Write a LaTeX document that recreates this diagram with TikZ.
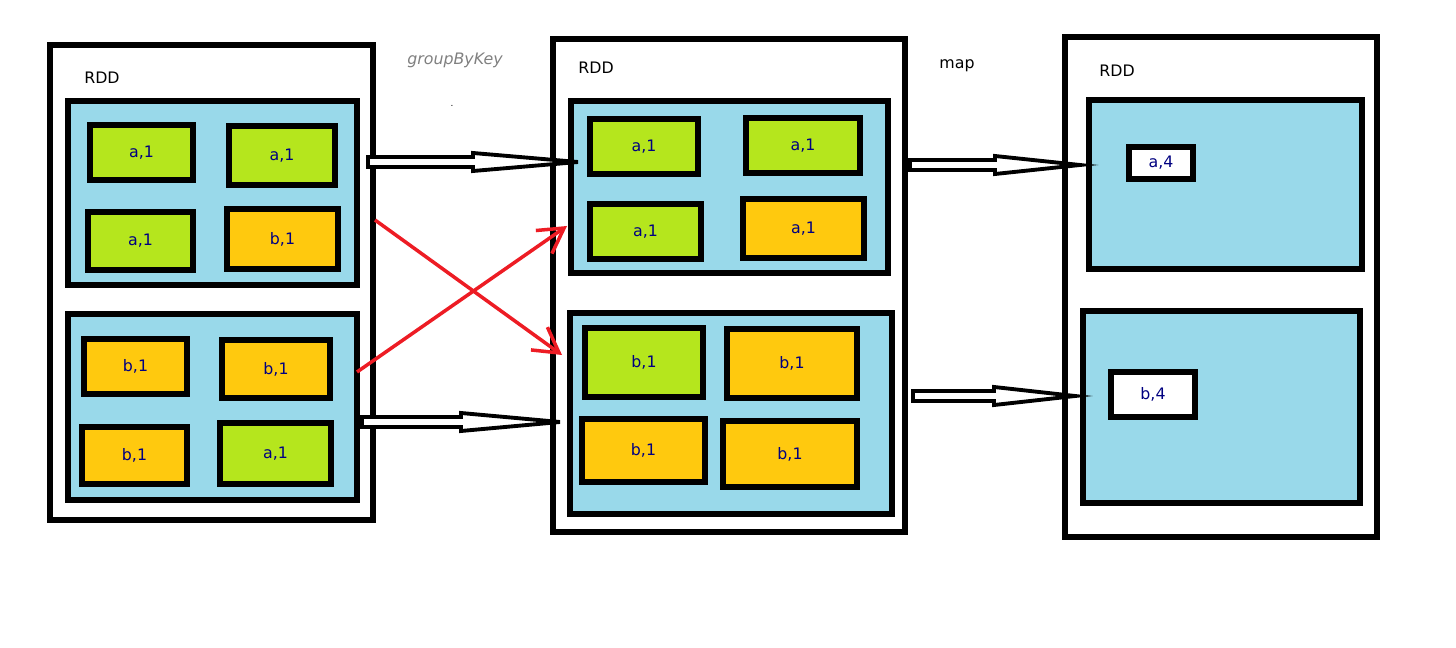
\documentclass[tikz,border=0pt]{standalone}
\usepackage{fontspec}
\setmainfont{DejaVu Sans}
\usetikzlibrary{arrows.meta}
\definecolor{partblue}{HTML}{99D9EA}
\definecolor{keygreen}{HTML}{B5E61D}
\definecolor{keyorange}{HTML}{FFC90E}
\definecolor{redline}{HTML}{ED1C24}
\definecolor{celltext}{HTML}{000080}
\tikzset{
  rdd/.style={draw, line width=3pt, fill=white},
  part/.style={draw, line width=3pt, fill=partblue},
  cell/.style={draw, line width=3pt},
  lbl/.style={font=\small, celltext},
  hollow/.style={draw, line width=2.2pt, fill=white},
  shuffle/.style={draw=redline, line width=2pt, -{Straight Barb[length=14pt,width=16pt]}}
}
% hollow arrow: x start, x end, y
\newcommand{\hollowarrow}[3]{%
  \pgfmathsetmacro{\xm}{#1+0.5*(#2-#1)}
  \path[hollow] (#1,#3-5) -- (\xm,#3-5) -- (\xm,#3-9) -- (#2,#3) -- (\xm,#3+9) -- (\xm,#3+5) -- (#1,#3+5) -- cycle;}
% cell: name, x1, y1, x2, y2, colour, text
\newcommand{\keycell}[7]{%
  \path[cell, fill=#6] (#2,#3) rectangle (#4,#5);
  \node[lbl] (#1) at ({(#2+#4)/2},{(#3+#5)/2}) {#7};}
\begin{document}
\begin{tikzpicture}[x=0.02cm, y=-0.02cm]
  \useasboundingbox (0,0) rectangle (1456,648);

  % 第一个 RDD
  \path[rdd] (50,45) rectangle (373,520);
  \node (rddA) at (102,78) {\small RDD};
  \path[part] (68,101) rectangle (357,285);
  \path[part] (68,314) rectangle (357,500);
  \keycell{a1}{90}{125}{193}{180}{keygreen}{a,1}
  \keycell{a2}{229}{126}{335}{185}{keygreen}{a,1}
  \keycell{a3}{88}{212}{193}{270}{keygreen}{a,1}
  \keycell{a4}{227}{209}{338}{269}{keyorange}{b,1}
  \keycell{a5}{84}{339}{187}{394}{keyorange}{b,1}
  \keycell{a6}{222}{340}{330}{398}{keyorange}{b,1}
  \keycell{a7}{82}{427}{187}{484}{keyorange}{b,1}
  \keycell{a8}{220}{423}{331}{484}{keygreen}{a,1}

  % 第二个 RDD
  \path[rdd] (553,39) rectangle (905,532);
  \node (rddB) at (596,68) {\small RDD};
  \path[part] (571,101) rectangle (888,273);
  \path[part] (570,313) rectangle (892,514);
  \keycell{b1}{590}{119}{698}{174}{keygreen}{a,1}
  \keycell{b2}{746}{118}{860}{173}{keygreen}{a,1}
  \keycell{b3}{590}{204}{701}{259}{keygreen}{a,1}
  \keycell{b4}{743}{199}{864}{258}{keyorange}{a,1}
  \keycell{b5}{585}{328}{703}{397}{keygreen}{b,1}
  \keycell{b6}{727}{329}{857}{398}{keyorange}{b,1}
  \keycell{b7}{582}{419}{705}{482}{keyorange}{b,1}
  \keycell{b8}{723}{421}{857}{487}{keyorange}{b,1}

  % 第三个 RDD
  \path[rdd] (1065,37) rectangle (1377,537);
  \node (rddC) at (1117,71) {\small RDD};
  \path[part] (1089,100) rectangle (1362,269);
  \path[part] (1083,311) rectangle (1360,503);
  \keycell{c1}{1129}{147}{1193}{179}{white}{a,4}
  \keycell{c2}{1111}{372}{1195}{417}{white}{b,4}

  % 箭头
  \hollowarrow{368}{578}{162}
  \hollowarrow{362}{560}{422}
  \hollowarrow{910}{1080}{165}
  \hollowarrow{913}{1075}{396}
  \coordinate (s1) at (375,220);
  \coordinate (t1) at (562,355);
  \coordinate (s2) at (357,372);
  \coordinate (t2) at (567,226);
  \draw[shuffle] (s1) -- (t1);
  \draw[shuffle] (s2) -- (t2);

  % 说明
  \node[gray, font=\small\itshape] (gbk) at (455,60) {groupByKey};
  \node[font=\tiny] (dot) at (452,106) {.};
  \node[font=\small] (mapl) at (957,66) {map};
\end{tikzpicture}
\end{document}
